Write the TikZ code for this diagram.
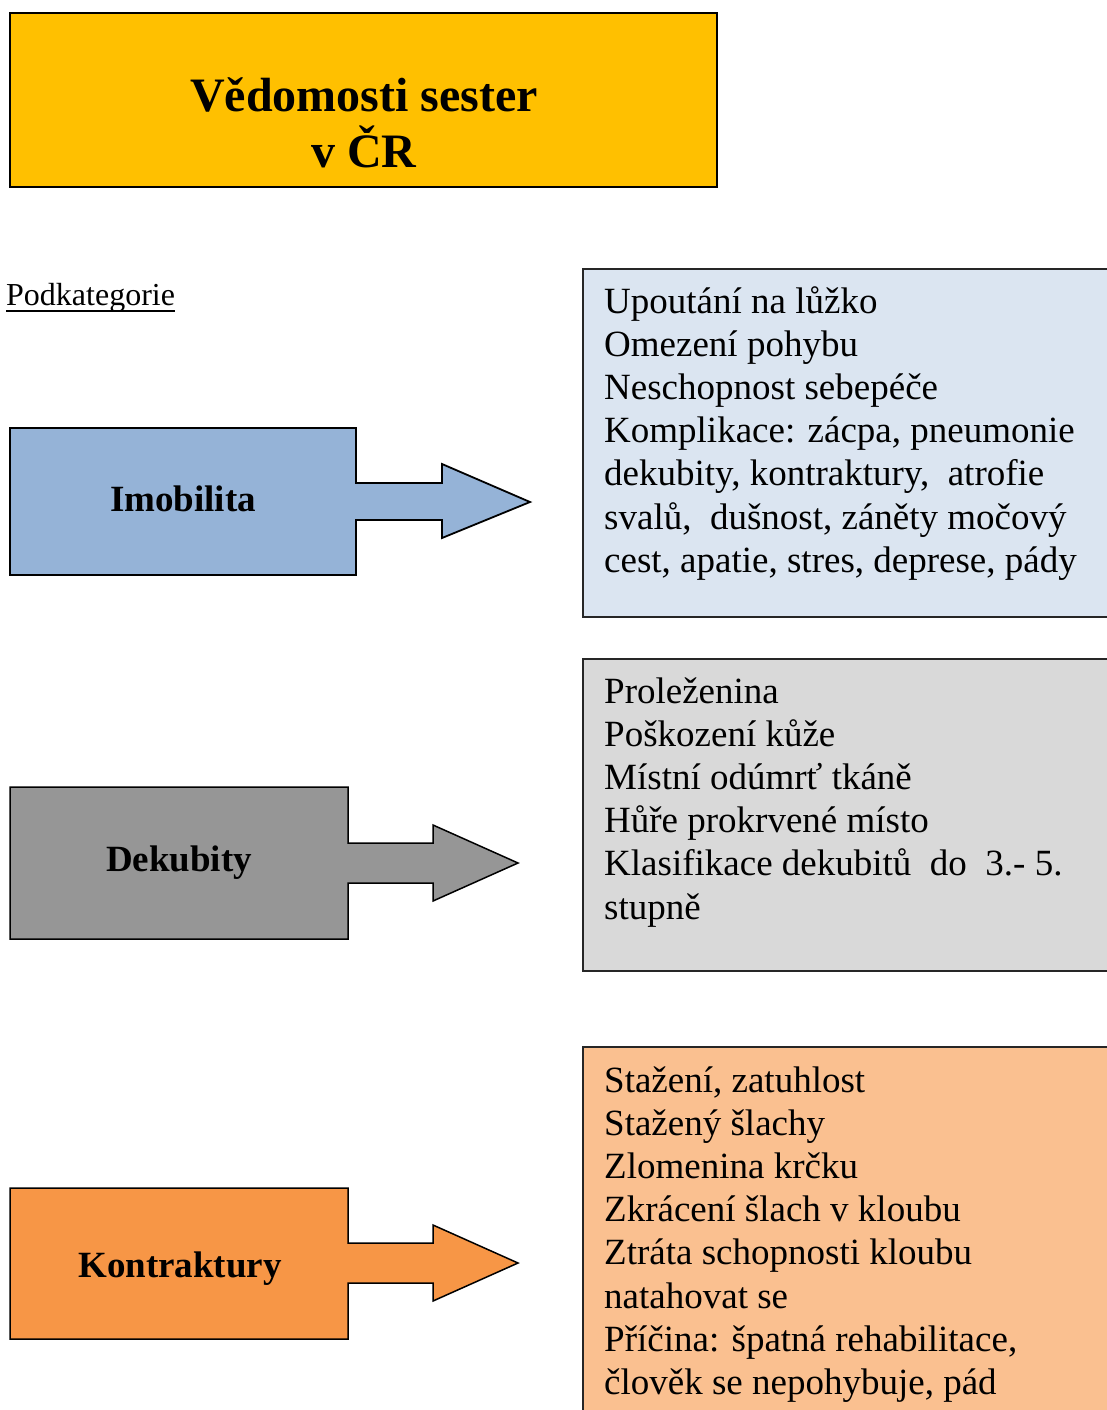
\documentclass[tikz,border=0pt]{standalone}
\usepackage{fontspec}
\setmainfont{Liberation Serif}
\definecolor{titlegold}{HTML}{FFC000}
\definecolor{imoblue}{HTML}{95B3D7}
\definecolor{imolight}{HTML}{DBE5F1}
\definecolor{dekgray}{HTML}{969696}
\definecolor{deklight}{HTML}{D9D9D9}
\definecolor{konorange}{HTML}{F79646}
\definecolor{konlight}{HTML}{FAC090}
\begin{document}
\begin{tikzpicture}[x=1pt,y=-1pt,
  catarrow/.style={draw=black,line width=1.8pt,line join=miter},
  infobox/.style={draw=black!85,line width=1.4pt},
  % multi-line nodes are placed by the baseline of their last line
  infotext/.style={anchor=base west,inner sep=0pt,align=left,
    font=\fontsize{37}{43.2}\selectfont},
  catlabel/.style={anchor=base,inner sep=0pt,
    font=\fontsize{37}{44}\selectfont\bfseries}]
\useasboundingbox (0,0) rectangle (1107,1410);

% heading
\draw[fill=titlegold,draw=black,line width=2pt] (10,13) rectangle (717,187);
\node[anchor=base,inner sep=0pt,align=center,
  font=\fontsize{48}{55}\selectfont\bfseries] (title) at (364,167)
  {Vědomosti sester\\v ČR};

\node[anchor=base west,inner sep=0pt,font=\fontsize{32}{38}\selectfont]
  (sub) at (6,305) {Podkategorie};
\draw[line width=1.6pt] ([yshift=-6pt]sub.base west) -- ([yshift=-6pt]sub.base east);

% category arrows
\filldraw[catarrow,fill=imoblue] (10,428) -- (356,428) -- (356,483) -- (442,483)
  -- (442,464) -- (530,502) -- (442,538) -- (442,520) -- (356,520)
  -- (356,575) -- (10,575) -- cycle;
\node[catlabel] (imob) at (183,511) {Imobilita};

\filldraw[catarrow,line width=1.5pt,fill=dekgray] (10,787) -- (348,787) -- (348,843)
  -- (433,843) -- (433,825) -- (518,863) -- (433,901) -- (433,883)
  -- (348,883) -- (348,939) -- (10,939) -- cycle;
\node[catlabel] (dek) at (179,871) {Dekubity};

\filldraw[catarrow,line width=1.5pt,fill=konorange] (10,1188) -- (348,1188) -- (348,1243)
  -- (433,1243) -- (433,1225) -- (518,1263) -- (433,1301) -- (433,1283)
  -- (348,1283) -- (348,1339) -- (10,1339) -- cycle;
\node[catlabel] (kon) at (180,1277) {Kontraktury};

% description boxes
\draw[infobox,fill=imolight] (583,269) rectangle (1112,617);
\node[infotext] (imobtext) at (604,572.2)
  {Upoutání na lůžko\\Omezení pohybu\\Neschopnost sebepéče\\
   Komplikace: zácpa, pneumonie\\dekubity, kontraktury,\ \ atrofie\\
   svalů,\ \ dušnost, záněty močový\\cest, apatie, stres, deprese, pády};

\draw[infobox,fill=deklight] (583,659) rectangle (1112,971);
\node[infotext] (dektext) at (604,919)
  {Proleženina\\Poškození kůže\\Místní odúmrť tkáně\\Hůře prokrvené místo\\
   Klasifikace dekubitů\ \ do\ \ 3.- 5.\\stupně};

\draw[infobox,fill=konlight] (583,1047) rectangle (1112,1420);
\node[infotext] (kontext) at (604,1394.4)
  {Stažení, zatuhlost\\Stažený šlachy\\Zlomenina krčku\\Zkrácení šlach v kloubu\\
   Ztráta schopnosti kloubu\\natahovat se\\Příčina: špatná rehabilitace,\\
   člověk se nepohybuje, pád};
\end{tikzpicture}
\end{document}
